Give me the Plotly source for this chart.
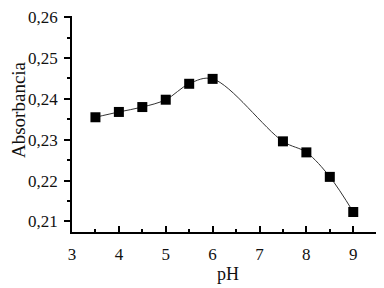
import plotly.graph_objects as go

ph = [3.5, 4.0, 4.5, 5.0, 5.5, 6.0, 7.5, 8.0, 8.5, 9.0]
absorbancia = [0.2355, 0.2368, 0.2380, 0.2398, 0.2437, 0.2449, 0.2296, 0.2269, 0.2209, 0.2123]

fig = go.Figure()
fig.add_trace(go.Scatter(
    x=ph, y=absorbancia, mode="lines+markers",
    line=dict(color="#333333", width=1, shape="spline", smoothing=1.0),
    marker=dict(symbol="square", size=10, color="black"),
    showlegend=False,
))

font = dict(family="Liberation Serif, DejaVu Serif, serif", size=17, color="#111111")
W, H = 384, 288
L, R, T, B = 64, 8, 8, 64
pw, ph_ = W - L - R, H - T - B
fig.update_layout(
    width=W, height=H,
    margin=dict(l=L, r=R, t=T, b=B),
    paper_bgcolor="white", plot_bgcolor="white",
    separators=",.",
    font=font,
    xaxis=dict(
        range=[3, 9.656], tickmode="array", tickvals=[3, 4, 5, 6, 7, 8, 9],
        ticks="inside", ticklen=6, tickwidth=1.5, tickcolor="black",
        minor=dict(ticks="inside", ticklen=3, dtick=0.5, tick0=3, tickcolor="black", tickwidth=1.5),
        showline=True, linecolor="black", linewidth=1.5, showgrid=False, zeroline=False,
        title=dict(text="pH", standoff=4, font=dict(size=18)), ticklabelstandoff=6, automargin=False,
        ticklabeloverflow="allow",
    ),
    yaxis=dict(
        range=[0.2074, 0.2603], tickmode="array", tickvals=[0.21, 0.22, 0.23, 0.24, 0.25, 0.26],
        tickformat=".2f",
        ticks="outside", ticklen=6, tickwidth=1.5, tickcolor="black",
        minor=dict(ticks="outside", ticklen=3, dtick=0.005, tick0=0.21, tickcolor="black", tickwidth=1.5),
        showline=True, linecolor="black", linewidth=1.5, showgrid=False, zeroline=False,
        ticklabelstandoff=3, automargin=False, ticklabeloverflow="allow",
    ),
    annotations=[dict(
        text="Absorbancia", textangle=-90, showarrow=False,
        xref="paper", yref="paper",
        x=(11 - L) / pw, y=1 - (102 - T) / ph_,
        xanchor="center", yanchor="middle",
        font=dict(size=19),
    )],
)
fig.write_html("out.html")
